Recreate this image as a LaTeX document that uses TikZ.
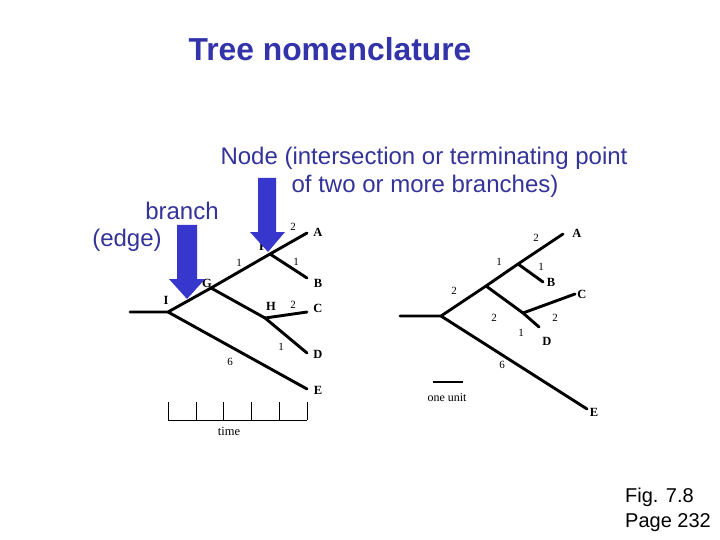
\documentclass[tikz,border=0pt]{standalone}
\usepackage{fontspec}
\setmainfont{Liberation Serif}
\newfontfamily\arialf{Liberation Sans}
\definecolor{titleblue}{RGB}{51,51,170}
\definecolor{textblue}{RGB}{51,51,153}
\definecolor{arrowblue}{RGB}{55,55,205}
\begin{document}
\begin{tikzpicture}[x=1pt,y=-1pt,
  branchline/.style={line width=2.9pt, line cap=round},
  num/.style={font=\fontsize{11}{11}\selectfont, inner sep=0pt},
  lbl/.style={font=\fontsize{12.5}{12.5}\selectfont\bfseries, inner sep=0pt},
  bigtxt/.style={font=\arialf\fontsize{24}{24}\selectfont, text=textblue, inner sep=0pt, anchor=base},
  bigarrow/.style={fill=arrowblue, draw=none}]
\useasboundingbox[fill=white] (0,0) rectangle (720,540);
% texts
\node[font=\arialf\bfseries\fontsize{31.8}{31.8}\selectfont, text=titleblue, inner sep=0pt, anchor=base] (title) at (330,61) {Tree nomenclature};
\node[bigtxt] (nodetxt1) at (424,165) {Node (intersection or terminating point};
\node[bigtxt] (nodetxt2) at (425,193) {of two or more branches)};
\node[bigtxt] (branchtxt) at (182,219) {branch};
\node[bigtxt] (edgetxt) at (127,246) {(edge)};
\node[font=\arialf\fontsize{20}{20}\selectfont, inner sep=0pt, anchor=base west] (fig) at (625,502) {Fig. 7.8};
\node[font=\arialf\fontsize{20}{20}\selectfont, inner sep=0pt, anchor=base west] (page) at (625,527) {Page 232};
% left tree
\coordinate (L0) at (130,312);
\coordinate (LI) at (168,312);
\coordinate (LG) at (211,288);
\coordinate (LF) at (270,254);
\coordinate (LA) at (307,233);
\coordinate (LB) at (307,278);
\coordinate (LH) at (265,318);
\coordinate (LC) at (307,312);
\coordinate (LD) at (307,353);
\coordinate (LE) at (307,389);
\draw[branchline] (L0) -- (LI) -- (LG) -- (LF) -- (LA);
\draw[branchline] (LF) -- (LB);
\draw[branchline] (LG) -- (LH) -- (LD);
\draw[branchline] (LH) -- (LC);
\draw[branchline] (LI) -- (LE);
\node[num] (ln1) at (293,227) {2};
\node[lbl] (lA) at (318,232) {A};
\node[lbl] (lF) at (263,246) {F};
\node[num] (ln2) at (239,263) {1};
\node[num] (ln3) at (296,262) {1};
\node[lbl] (lG) at (207,283) {G};
\node[lbl] (lB) at (318,283) {B};
\node[lbl] (lI) at (166,300) {I};
\node[lbl] (lH) at (271,306) {H};
\node[num] (ln4) at (293,305) {2};
\node[lbl] (lC) at (318,308) {C};
\node[num] (ln5) at (281,347) {1};
\node[num] (ln6) at (230,362) {6};
\node[lbl] (lD) at (318,354) {D};
\node[lbl] (lE) at (318,390) {E};
% time ruler
\coordinate (T0) at (168,420);
\coordinate (T5) at (307,420);
\draw[line width=0.9pt] (T0) -- (T5);
\foreach \x in {168,196,223,251,279,307} \draw[line width=0.9pt] (\x,402) -- (\x,420);
\node[font=\fontsize{12.5}{12.5}\selectfont, inner sep=0pt] (time) at (229,431) {time};
% right tree
\coordinate (R0) at (400,316);
\coordinate (RI) at (441,316);
\coordinate (RG) at (486,286);
\coordinate (RF) at (518,264);
\coordinate (RA) at (563,234);
\coordinate (RB) at (543,282);
\coordinate (RH) at (523,313);
\coordinate (RC) at (575,294);
\coordinate (RD) at (539,327);
\coordinate (RE) at (587,409);
\draw[branchline] (R0) -- (RI) -- (RG) -- (RF) -- (RA);
\draw[branchline] (RF) -- (RB);
\draw[branchline] (RG) -- (RH) -- (RD);
\draw[branchline] (RH) -- (RC);
\draw[branchline] (RI) -- (RE);
\node[num] (rn1) at (536,238) {2};
\node[lbl] (rA) at (577,233) {A};
\node[num] (rn2) at (499,262) {1};
\node[num] (rn3) at (541,267) {1};
\node[lbl] (rB) at (551,282) {B};
\node[lbl] (rC) at (582,294) {C};
\node[num] (rn4) at (454,291) {2};
\node[num] (rn5) at (494,318) {2};
\node[num] (rn6) at (555,318) {2};
\node[num] (rn7) at (521,333) {1};
\node[lbl] (rD) at (547,341) {D};
\node[num] (rn8) at (502,365) {6};
\node[lbl] (rE) at (594,412) {E};
% one unit
\coordinate (U0) at (433,382);
\coordinate (U1) at (463,382);
\draw[line width=1.6pt] (U0) -- (U1);
\node[font=\fontsize{12}{12}\selectfont, inner sep=0pt] (unit) at (447,398) {one unit};
% big arrows
\fill[bigarrow] (177,225) -- (197,225) -- (197,279) -- (205,279) -- (187,299) -- (169,279) -- (177,279) -- cycle;
\fill[bigarrow] (258,178) -- (276,178) -- (276,232) -- (285,232) -- (268,252) -- (250,232) -- (258,232) -- cycle;
\end{tikzpicture}
\end{document}
